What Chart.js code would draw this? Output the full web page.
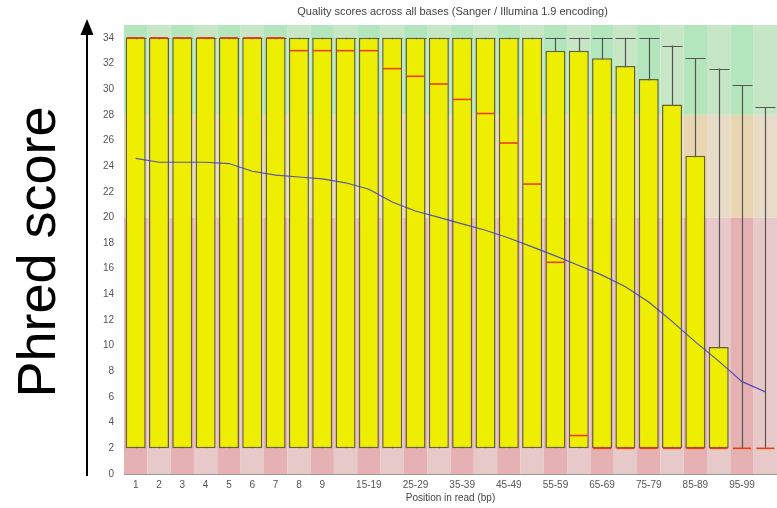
<!DOCTYPE html>
<html>
<head>
<meta charset="utf-8">
<script src="https://cdn.jsdelivr.net/npm/chart.js@4.4.1/dist/chart.umd.min.js"></script>
<style>
  html, body { margin: 0; padding: 0; background: #ffffff; }
  #wrap { position: relative; width: 777px; height: 508px; }
</style>
</head>
<body>
<div id="wrap"><canvas id="qualityChart"></canvas></div>
<script>
// per-base quality
const positions = ["1", "2", "3", "4", "5", "6", "7", "8", "9", "10-14", "15-19", "20-24",
  "25-29", "30-34", "35-39", "40-44", "45-49", "50-54", "55-59", "60-64", "65-69",
  "70-74", "75-79", "80-84", "85-89", "90-94", "95-99", "100-101"];

const whiskerLow = [2, 2, 2, 2, 2, 2, 2, 2, 2, 2, 2, 2, 2, 2, 2, 2, 2, 2, 2, 2, 2, 2, 2, 2, 2, 2, 2, 2];
const lowerQuartile = [2, 2, 2, 2, 2, 2, 2, 2, 2, 2, 2, 2, 2, 2, 2, 2, 2, 2, 2, 2, 2, 2, 2, 2, 2, 2, 2, 2];
const medianScore = [34, 34, 34, 34, 34, 34, 34, 33, 33, 33, 33, 31.6, 31.0, 30.4, 29.2, 28.1,
  25.8, 22.6, 16.5, 3.0, 2, 2, 2, 2, 2, 2, 2, 2];
const upperQuartile = [34, 34, 34, 34, 34, 34, 34, 34, 34, 34, 34, 34, 34, 34, 34, 34, 34, 34,
  33, 33, 32.4, 31.8, 30.8, 28.8, 24.8, 9.9, 2, 2];
const whiskerHigh = [34, 34, 34, 34, 34, 34, 34, 34, 34, 34, 34, 34, 34, 34, 34, 34, 34, 34,
  34, 34, 34, 34, 34, 33.4, 32.4, 31.6, 30.3, 28.6];
const meanScore = [24.6, 24.3, 24.3, 24.3, 24.2, 23.6, 23.3, 23.15, 23.0, 22.7, 22.2, 21.2,
  20.5, 20.0, 19.5, 19.0, 18.4, 17.7, 17.0, 16.25, 15.5, 14.6, 13.4, 11.9, 10.3, 8.8, 7.2, 6.4];

const yTicks = [0, 2, 4, 6, 8, 10, 12, 14, 16, 18, 20, 22, 24, 26, 28, 30, 32, 34];
const qualityBands = [0, 20, 28, 35];

const chartTitle = "Quality scores across all bases (Sanger / Illumina 1.9 encoding)";
const xTitle = "Position in read (bp)";
const sideLabel = "Phred score";

// dark / light stripe for red, orange, green bands
const bandColors = [
  ["#e6b1b3", "#e8c9c9"],
  ["#e7d6b0", "#e8dcc8"],
  ["#b3e6bc", "#c6e6c6"],
];

const fastqcPlugin = {
  id: "fastqc",
  beforeDatasetsDraw(chart) {
    const { ctx, chartArea, scales } = chart;
    const x = scales.x;
    const y = scales.y;
    const colW = chartArea.width / positions.length;

    ctx.save();
    for (let b = 0; b < qualityBands.length - 1; b++) {
      const top = y.getPixelForValue(qualityBands[b + 1]);
      const bottom = y.getPixelForValue(qualityBands[b]);
      positions.forEach((p, i) => {
        const cx = x.getPixelForValue(i);
        ctx.fillStyle = bandColors[b][i % 2];
        ctx.fillRect(cx - colW / 2, top, colW, bottom - top);
      });
    }

    // whiskers
    const capW = colW * 0.86;
    ctx.strokeStyle = "#555555";
    ctx.lineWidth = 1.2;
    positions.forEach((p, i) => {
      const cx = Math.round(x.getPixelForValue(i)) + 0.5;
      const hi = y.getPixelForValue(whiskerHigh[i]);
      const lo = y.getPixelForValue(whiskerLow[i]);
      ctx.beginPath();
      ctx.moveTo(cx, lo);
      ctx.lineTo(cx, hi);
      ctx.moveTo(cx - capW / 2, Math.round(hi) + 0.5);
      ctx.lineTo(cx + capW / 2, Math.round(hi) + 0.5);
      ctx.stroke();
    });
    ctx.restore();
  },
  afterDatasetDraw(chart, args) {
    if (args.index !== 0) return;
    const { ctx, chartArea, scales } = chart;
    const colW = chartArea.width / positions.length;
    const w = colW * 0.86;
    ctx.save();
    ctx.strokeStyle = "#e8400c";
    ctx.lineWidth = 1.6;
    medianScore.forEach((m, i) => {
      const cx = scales.x.getPixelForValue(i);
      const py = scales.y.getPixelForValue(m);
      ctx.beginPath();
      ctx.moveTo(cx - w / 2 + 1, py);
      ctx.lineTo(cx + w / 2 - 1, py);
      ctx.stroke();
    });
    ctx.restore();
  },
  afterDraw(chart) {
    const { ctx, chartArea } = chart;
    ctx.save();
    ctx.fillStyle = "#444444";
    ctx.font = '11px "Liberation Sans", Arial, sans-serif';
    ctx.textAlign = "center";
    ctx.textBaseline = "middle";
    ctx.fillText(chartTitle, (chartArea.left + chartArea.right) / 2 + 2, 12);

    // big rotated label
    ctx.translate(55, 252);
    ctx.rotate(-Math.PI / 2);
    ctx.fillStyle = "#000000";
    ctx.font = '54px "Liberation Sans", Arial, sans-serif';
    ctx.textBaseline = "alphabetic";
    ctx.fillText(sideLabel, 0, 0);
    ctx.restore();

    // arrow
    ctx.save();
    ctx.strokeStyle = "#000000";
    ctx.fillStyle = "#000000";
    ctx.lineWidth = 2;
    ctx.beginPath();
    ctx.moveTo(87, 476);
    ctx.lineTo(87, 32);
    ctx.stroke();
    ctx.beginPath();
    ctx.moveTo(87, 19);
    ctx.lineTo(80.5, 35);
    ctx.lineTo(93.5, 35);
    ctx.closePath();
    ctx.fill();
    ctx.restore();
  },
};

const boxData = lowerQuartile.map((q1, i) => [q1, upperQuartile[i]]);

new Chart(document.getElementById("qualityChart"), {
  type: "bar",
  data: {
    labels: positions,
    datasets: [
      {
        label: "Interquartile range",
        data: boxData,
        backgroundColor: "#eeee00",
        borderColor: "#65652a",
        borderWidth: 1.5,
        borderSkipped: false,
        barPercentage: 0.86,
        categoryPercentage: 1,
        order: 2,
      },
      {
        type: "line",
        label: "Mean",
        data: meanScore,
        borderColor: "rgba(60, 60, 190, 0.85)",
        borderWidth: 1.2,
        pointRadius: 0,
        tension: 0,
        fill: false,
        order: 1,
      },
    ],
  },
  options: {
    responsive: true,
    maintainAspectRatio: false,
    animation: false,
    layout: { padding: { left: 100, top: 25, right: 0, bottom: 0 } },
    plugins: {
      legend: { display: false },
      tooltip: { enabled: false },
      title: { display: false },
    },
    scales: {
      x: {
        grid: { display: false, drawTicks: false },
        border: { display: true, color: "#9a9a9a" },
        ticks: {
          color: "#555555",
          font: { family: '"Liberation Sans", Arial, sans-serif', size: 10 },
          padding: 5,
          maxRotation: 0,
          autoSkip: false,
          callback: (value, i) => (i < 9 || (i - 9) % 2 === 1 ? positions[i] : ""),
        },
        title: {
          display: true,
          text: xTitle,
          color: "#444444",
          font: { family: '"Liberation Sans", Arial, sans-serif', size: 10 },
          padding: { top: 2, bottom: 4 },
        },
        afterFit: (scale) => { scale.height = 34; },
      },
      y: {
        min: 0,
        max: 35,
        grid: { display: false, drawTicks: false },
        border: { display: true, color: "#9a9a9a" },
        afterBuildTicks: (scale) => { scale.ticks = yTicks.map((v) => ({ value: v })); },
        ticks: {
          color: "#555555",
          font: { family: '"Liberation Sans", Arial, sans-serif', size: 10 },
          padding: 10,
        },
        afterFit: (scale) => { scale.width = 24; },
      },
    },
  },
  plugins: [fastqcPlugin],
});
</script>
</body>
</html>
